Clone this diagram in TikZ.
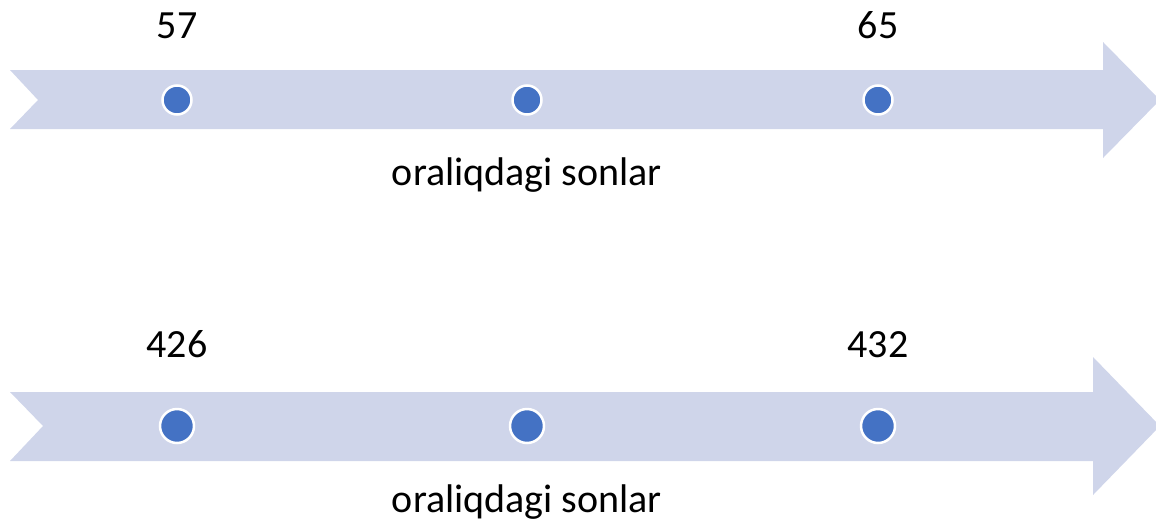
\documentclass[tikz,border=0pt]{standalone}
\usepackage{fontspec}
\setmainfont{Carlito}
\definecolor{band}{HTML}{CFD5EA}
\definecolor{dotblue}{HTML}{4472C4}
\begin{document}
\begin{tikzpicture}[x=1pt,y=-1pt,
  bandarrow/.style={fill=band,draw=none},
  dotA/.style={circle,fill=dotblue,draw=white,line width=2.5pt,minimum size=29pt,inner sep=0pt},
  dotB/.style={circle,fill=dotblue,draw=white,line width=2.5pt,minimum size=34pt,inner sep=0pt},
  lbl/.style={anchor=base,inner sep=0pt,font=\fontsize{40}{48}\selectfont}]
\useasboundingbox (0,0) rectangle (1156,525);

% upper band
\fill[bandarrow] (10,70) -- (1103,70) -- (1103,42) -- (1160,100) -- (1103,158)
  -- (1103,129) -- (10,129) -- (38,100) -- cycle;
\node[dotA] (a1) at (177,100) {};
\node[dotA] (a2) at (527,100) {};
\node[dotA] (a3) at (878,100) {};
\node[lbl] (n57) at (177,38) {57};
\node[lbl] (n65) at (878,38) {65};
\node[lbl] (t1) at (527,185) {oraliqdagi sonlar};

% lower band
\fill[bandarrow] (10,392) -- (1093,392) -- (1093,357) -- (1160,426) -- (1093,495)
  -- (1093,461) -- (10,461) -- (43,426) -- cycle;
\node[dotB] (b1) at (177,426) {};
\node[dotB] (b2) at (527,426) {};
\node[dotB] (b3) at (878,426) {};
\node[lbl] (n426) at (177,357) {426};
\node[lbl] (n432) at (878,357) {432};
\node[lbl] (t2) at (527,512) {oraliqdagi sonlar};
\end{tikzpicture}
\end{document}
